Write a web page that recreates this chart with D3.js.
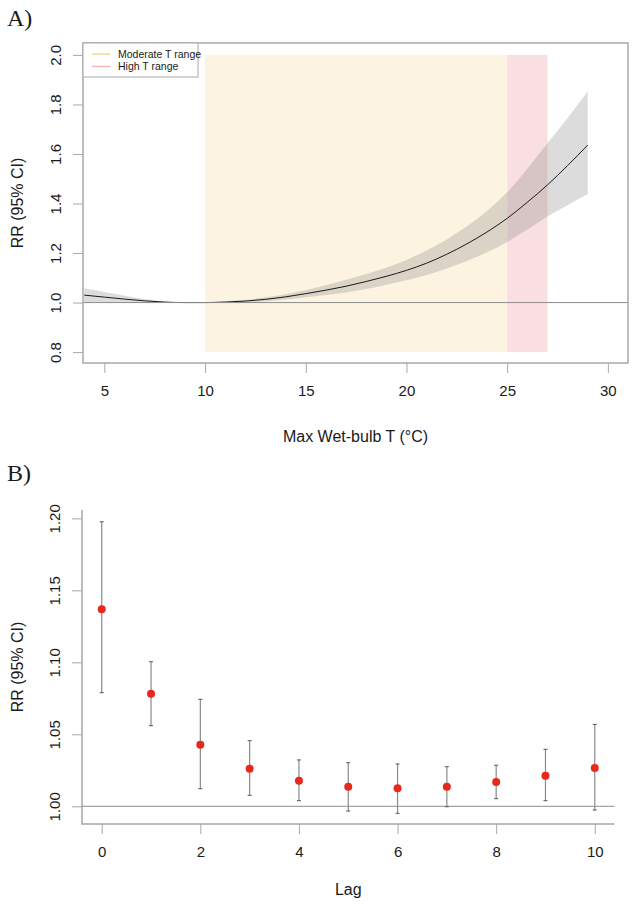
<!DOCTYPE html>
<html>
<head>
<meta charset="utf-8">
<script src="https://cdn.jsdelivr.net/npm/d3@7"></script>
<style>
  body { margin: 0; background: #fff; }
  svg text { font-family: "Liberation Sans", Arial, sans-serif; fill: #1a1a1a; }
</style>
</head>
<body>
<div id="chart"></div>
<script>
// panel A: exposure-response curve
var tempA  = [4, 5, 6, 7, 8, 9, 10, 11, 12, 13, 14, 15, 16, 17, 18, 19, 20, 21, 22, 23, 24, 25, 26, 27, 28, 29];
var rrA    = [1.030, 1.022, 1.014, 1.007, 1.002, 1.000, 1.000, 1.002, 1.006, 1.013, 1.023, 1.036, 1.050, 1.066, 1.085, 1.106, 1.130, 1.159, 1.195, 1.237, 1.285, 1.340, 1.405, 1.475, 1.553, 1.636];
var lowA   = [1.002, 1.002, 1.001, 1.000, 1.000, 1.000, 0.999, 0.999, 1.001, 1.005, 1.012, 1.021, 1.031, 1.041, 1.055, 1.072, 1.090, 1.111, 1.138, 1.168, 1.203, 1.245, 1.295, 1.347, 1.393, 1.438];
var highA  = [1.058, 1.043, 1.028, 1.014, 1.004, 1.000, 1.002, 1.005, 1.011, 1.021, 1.034, 1.051, 1.070, 1.092, 1.115, 1.141, 1.172, 1.210, 1.255, 1.308, 1.370, 1.445, 1.540, 1.643, 1.745, 1.852];
var rangesA = [
  {name: "Moderate T range", from: 10, to: 25, fill: "#fdf3e1", key: "#f6d98e"},
  {name: "High T range", from: 25, to: 27, fill: "#f9dfe1", key: "#f3b4bc"}
];
var xTicksA = [5, 10, 15, 20, 25, 30];
var yTicksA = [0.8, 1.0, 1.2, 1.4, 1.6, 1.8, 2.0];

// panel B: lag-response
var lags   = [0, 1, 2, 3, 4, 5, 6, 7, 8, 9, 10];
var rrB    = [1.1368, 1.0782, 1.0428, 1.0261, 1.0178, 1.0136, 1.0125, 1.0136, 1.0169, 1.0213, 1.0266];
var lowB   = [1.0789, 1.0560, 1.0122, 1.0076, 1.0039, 0.9967, 0.9951, 0.9997, 1.0053, 1.0039, 0.9974];
var highB  = [1.1976, 1.1004, 1.0743, 1.0456, 1.0322, 1.0303, 1.0294, 1.0275, 1.0285, 1.0396, 1.0569];
var xTicksB = [0, 2, 4, 6, 8, 10];
var yTicksB = [1.00, 1.05, 1.10, 1.15, 1.20];

var W = 635, H = 909;
var frameCol = "#a8a8a8";

var svg = d3.select("#chart").append("svg")
  .attr("width", W)
  .attr("height", H);

function styleAxis(g) {
  g.select(".domain").remove();
  g.selectAll(".tick line").attr("stroke", frameCol).attr("stroke-width", 1);
  g.selectAll(".tick text").style("font-size", "15px").attr("fill", "#1a1a1a");
}

function leftAxis(scale, ticks, fmt, x0) {
  var g = svg.append("g")
    .attr("transform", "translate(" + x0 + ",0)")
    .call(d3.axisLeft(scale).tickValues(ticks).tickFormat(d3.format(fmt)).tickSize(10));
  styleAxis(g);
  g.selectAll(".tick text")
    .attr("x", null).attr("dy", "0.35em")
    .attr("text-anchor", "middle")
    .attr("transform", "translate(-27,0) rotate(-90)");
  return g;
}

function bottomAxis(scale, ticks, y0) {
  var g = svg.append("g")
    .attr("transform", "translate(0," + y0 + ")")
    .call(d3.axisBottom(scale).tickValues(ticks).tickFormat(d3.format("d")).tickSize(10));
  styleAxis(g);
  g.selectAll(".tick text").attr("y", 22);
  return g;
}

// ---------- panel A ----------
var xA = d3.scaleLinear().domain([3.94, 31.0]).range([83, 628]);
var yA = d3.scaleLinear().domain([0.756, 2.048]).range([363, 43]);

svg.append("defs").append("clipPath").attr("id", "clipA")
  .append("rect").attr("x", 83).attr("y", 43).attr("width", 545).attr("height", 320);

svg.append("text").attr("x", 7).attr("y", 26)
  .style("font-family", "'Liberation Serif', 'Times New Roman', serif")
  .style("font-size", "24px").text("A)");

var pA = svg.append("g").attr("clip-path", "url(#clipA)");

pA.selectAll("rect.range").data(rangesA).enter().append("rect")
  .attr("class", "range")
  .attr("x", d => xA(d.from))
  .attr("width", d => xA(d.to) - xA(d.from))
  .attr("y", yA(2.0))
  .attr("height", yA(0.8) - yA(2.0))
  .attr("fill", d => d.fill);

var ptsA = tempA.map((t, i) => ({t: t, rr: rrA[i], lo: lowA[i], hi: highA[i]}));

pA.append("path").datum(ptsA)
  .attr("d", d3.area().x(d => xA(d.t)).y0(d => yA(d.lo)).y1(d => yA(d.hi)).curve(d3.curveMonotoneX))
  .attr("fill", "#808080")
  .attr("fill-opacity", 0.28);

pA.append("path").datum(ptsA)
  .attr("d", d3.line().x(d => xA(d.t)).y(d => yA(d.rr)).curve(d3.curveMonotoneX))
  .attr("fill", "none")
  .attr("stroke", "#1a1a1a")
  .attr("stroke-width", 1);

pA.append("line")
  .attr("x1", 83).attr("x2", 628)
  .attr("y1", yA(1)).attr("y2", yA(1))
  .attr("stroke", "#8c8c8c").attr("stroke-width", 1);

svg.append("rect").attr("x", 83).attr("y", 43).attr("width", 545).attr("height", 320)
  .attr("fill", "none").attr("stroke", frameCol).attr("stroke-width", 1.5);

leftAxis(yA, yTicksA, ".1f", 83);
bottomAxis(xA, xTicksA, 363);

svg.append("text")
  .attr("transform", "translate(23," + ((43 + 363) / 2) + ") rotate(-90)")
  .attr("text-anchor", "middle")
  .style("font-size", "16px")
  .text("RR (95% CI)");

svg.append("text")
  .attr("x", (83 + 628) / 2).attr("y", 442)
  .attr("text-anchor", "middle")
  .style("font-size", "16px")
  .text("Max Wet-bulb T (°C)");

// legend
var leg = svg.append("g");
leg.append("rect").attr("x", 83).attr("y", 43).attr("width", 115).attr("height", 34)
  .attr("fill", "#fff").attr("stroke", frameCol).attr("stroke-width", 1);
rangesA.forEach(function(r, i) {
  var yy = 54 + i * 12.5;
  leg.append("line").attr("x1", 92).attr("x2", 110).attr("y1", yy).attr("y2", yy)
    .attr("stroke", r.key).attr("stroke-width", 1.5);
  leg.append("text").attr("x", 118).attr("y", yy).attr("dy", "0.35em")
    .style("font-size", "10.5px").text(r.name);
});

// ---------- panel B ----------
var xB = d3.scaleLinear().domain([-0.4, 10.4]).range([82, 614.5]);
var yB = d3.scaleLinear().domain([0.9877, 1.2058]).range([824, 510]);

svg.append("text").attr("x", 7).attr("y", 481)
  .style("font-family", "'Liberation Serif', 'Times New Roman', serif")
  .style("font-size", "24px").text("B)");

svg.append("line")
  .attr("x1", xB(-0.4)).attr("x2", xB(10.4))
  .attr("y1", yB(1)).attr("y2", yB(1))
  .attr("stroke", "#8c8c8c").attr("stroke-width", 1);

var ptsB = lags.map((l, i) => ({lag: l, rr: rrB[i], lo: lowB[i], hi: highB[i]}));

var bars = svg.append("g").selectAll("g").data(ptsB).enter().append("g");
bars.append("line")
  .attr("x1", d => xB(d.lag)).attr("x2", d => xB(d.lag))
  .attr("y1", d => yB(d.lo)).attr("y2", d => yB(d.hi))
  .attr("stroke", "#8a8a8a").attr("stroke-width", 1.2);
bars.append("line")
  .attr("x1", d => xB(d.lag) - 2).attr("x2", d => xB(d.lag) + 2)
  .attr("y1", d => yB(d.hi)).attr("y2", d => yB(d.hi))
  .attr("stroke", "#555").attr("stroke-width", 1);
bars.append("line")
  .attr("x1", d => xB(d.lag) - 2).attr("x2", d => xB(d.lag) + 2)
  .attr("y1", d => yB(d.lo)).attr("y2", d => yB(d.lo))
  .attr("stroke", "#555").attr("stroke-width", 1);
bars.append("circle")
  .attr("cx", d => xB(d.lag)).attr("cy", d => yB(d.rr))
  .attr("r", 4)
  .attr("fill", "#e8271d");

// L-shaped box
svg.append("path")
  .attr("d", "M" + xB(-0.4) + "," + yB(1.2058) + "V" + yB(0.9877) + "H" + xB(10.4))
  .attr("fill", "none").attr("stroke", frameCol).attr("stroke-width", 1.5);

leftAxis(yB, yTicksB, ".2f", 82);
bottomAxis(xB, xTicksB, 824);

svg.append("text")
  .attr("transform", "translate(23," + ((510 + 824) / 2) + ") rotate(-90)")
  .attr("text-anchor", "middle")
  .style("font-size", "16px")
  .text("RR (95% CI)");

svg.append("text")
  .attr("x", (82 + 614.5) / 2).attr("y", 895)
  .attr("text-anchor", "middle")
  .style("font-size", "16px")
  .text("Lag");
</script>
</body>
</html>
